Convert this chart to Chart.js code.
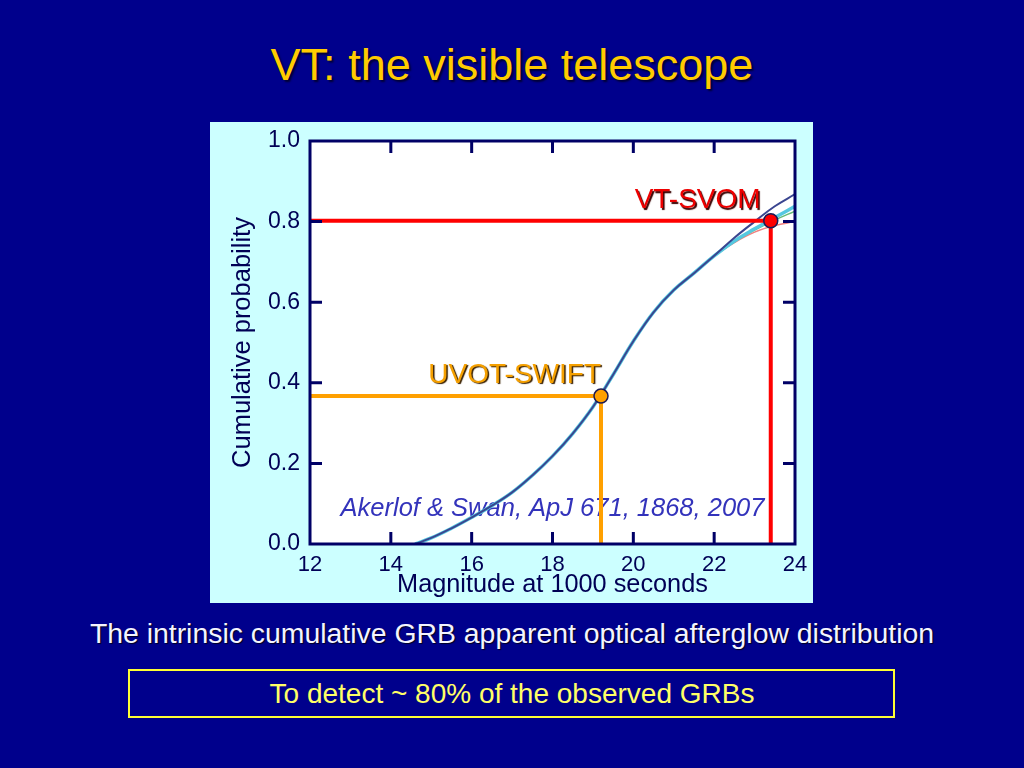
<!DOCTYPE html>
<html>
<head>
<meta charset="utf-8">
<script src="https://cdn.jsdelivr.net/npm/chart.js@4.4.1/dist/chart.umd.min.js"></script>
<style>
  html, body { margin:0; padding:0; }
  body { width:1024px; height:768px; background:#00008c; position:relative; overflow:hidden;
         font-family:"Liberation Sans", Arial, sans-serif; }
  .t { position:absolute; left:0; width:1024px; text-align:center; white-space:nowrap; }
  #title { top:42px; font-size:45px; line-height:45px; color:#ffcc00; text-shadow:2px 2px 2px #000033; }
  #sub { top:619px; font-size:28.4px; line-height:28px; color:#f4f4ff; text-shadow:1px 1px 1px #000022; }
  #box { position:absolute; left:128px; top:669px; width:763px; height:45px; border:2px solid #ffff33; }
  #boxtxt { top:680px; font-size:28px; line-height:28px; color:#ffff66; }
  #panel { position:absolute; left:210px; top:122px; width:603px; height:481px; background:#ccffff; }
</style>
</head>
<body>
<div class="t" id="title">VT: the visible telescope</div>
<div id="panel"><canvas id="c" width="603" height="481"></canvas></div>
<div class="t" id="sub">The intrinsic cumulative GRB apparent optical afterglow distribution</div>
<div id="box"></div>
<div class="t" id="boxtxt">To detect ~ 80% of the observed GRBs</div>
<script>
// ---- data ----
const magnitude = [14.6, 15.0, 15.5, 16.0, 16.5, 17.0, 17.5, 18.0, 18.5, 19.0, 19.5, 20.0, 20.5, 21.0, 21.5, 22.0, 22.5, 23.0, 23.5, 24.0];
const probMain  = [0.0, 0.015, 0.039, 0.066, 0.095, 0.128, 0.17, 0.218, 0.274, 0.34, 0.42, 0.503, 0.575, 0.63, 0.672, 0.715, 0.76, 0.80, 0.838, 0.868];
const tailMag        = [22.0, 22.5, 23.0, 23.5, 24.0];
const probCyanTail   = [0.715, 0.752, 0.782, 0.81, 0.838];
const probGreenTail  = [0.715, 0.75, 0.779, 0.804, 0.826];
const probRedTail    = [0.715, 0.748, 0.774, 0.79, 0.80];
const markerNames = ['UVOT-SWIFT', 'VT-SVOM'];
const markerMag   = [19.2, 23.4];
const markerProb  = [0.367, 0.802];
const markerColors = ['#ffa000', '#ff0000'];
const xTickMarks = [14, 16, 18, 20, 22];
const yTickMarks = [0.2, 0.4, 0.6, 0.8];
const citation = 'Akerlof & Swan, ApJ 671, 1868, 2007';

const pts = (xs, ys) => xs.map((v, i) => ({x: v, y: ys[i]}));
const bodyMag = magnitude.filter(m => m < tailMag[0]);
const bodyProb = probMain.slice(0, bodyMag.length);
const FONT = '"Liberation Sans", Arial, sans-serif';

const curve = (data, color, width, order) => ({
  data, showLine: true, borderColor: color, borderWidth: width, pointRadius: 0,
  tension: 0.4, order
});

const refLine = (i) => ({
  data: [{x: 12, y: markerProb[i]}, {x: markerMag[i], y: markerProb[i]}, {x: markerMag[i], y: 0}],
  showLine: true, borderColor: markerColors[i], borderWidth: 4, pointRadius: 0, tension: 0, order: 1, clip: 4
});
const marker = (i) => ({
  data: [{x: markerMag[i], y: markerProb[i]}], showLine: false,
  pointRadius: 7, pointBackgroundColor: markerColors[i], pointBorderColor: '#1a1a55', pointBorderWidth: 1.5,
  order: 0, clip: 10
});

const decor = {
  id: 'decor',
  beforeDatasetsDraw(chart) {
    const {ctx, chartArea: a, scales: {x, y}} = chart;
    ctx.save();
    ctx.fillStyle = '#ffffff';
    ctx.fillRect(a.left, a.top, a.width, a.height);
    ctx.font = 'italic 25.5px ' + FONT;
    ctx.fillStyle = '#3333bb';
    ctx.textAlign = 'center';
    ctx.textBaseline = 'middle';
    ctx.fillText(citation, x.getPixelForValue(18.0), y.getPixelForValue(0.087));
    ctx.restore();
  },
  afterDatasetsDraw(chart) {
    const {ctx, chartArea: a, scales: {x, y}} = chart;
    ctx.save();
    ctx.strokeStyle = '#000066';
    ctx.lineWidth = 3;
    ctx.strokeRect(a.left, a.top, a.width, a.height);
    ctx.beginPath();
    xTickMarks.forEach(v => {
      const px = x.getPixelForValue(v);
      ctx.moveTo(px, a.top); ctx.lineTo(px, a.top + 12);
      ctx.moveTo(px, a.bottom); ctx.lineTo(px, a.bottom - 12);
    });
    yTickMarks.forEach(v => {
      const py = y.getPixelForValue(v);
      ctx.moveTo(a.left, py); ctx.lineTo(a.left + 12, py);
      ctx.moveTo(a.right, py); ctx.lineTo(a.right - 12, py);
    });
    ctx.stroke();
    // marker labels
    ctx.font = '28px ' + FONT;
    ctx.textAlign = 'right';
    ctx.textBaseline = 'middle';
    const lab = [[19.2, 0.419, '#3a2000'], [23.15, 0.852, '#3a0000']];
    markerNames.forEach((n, i) => {
      ctx.shadowColor = lab[i][2];
      ctx.shadowOffsetX = 1.5; ctx.shadowOffsetY = 1.5; ctx.shadowBlur = 1;
      ctx.fillStyle = i === 0 ? '#f5a000' : '#ee0000';
      ctx.fillText(n, x.getPixelForValue(lab[i][0]), y.getPixelForValue(lab[i][1]));
    });
    ctx.restore();
  }
};

new Chart(document.getElementById('c'), {
  type: 'scatter',
  data: {
    datasets: [
      marker(0), marker(1),
      refLine(0), refLine(1),
      curve(pts(magnitude, probMain), '#3a4590', 2, 2),
      curve(pts(bodyMag.concat(tailMag), bodyProb.concat(probCyanTail)), '#55c8e0', 3.5, 3),
      curve(pts(tailMag, probGreenTail), '#66bb77', 1.5, 4),
      curve(pts(tailMag, probRedTail), '#f08080', 1.5, 5)
    ]
  },
  options: {
    responsive: false,
    animation: false,
    events: [],
    layout: { padding: { left: 0, top: 19, right: 18, bottom: 0 } },
    plugins: { legend: { display: false }, tooltip: { enabled: false } },
    scales: {
      x: {
        type: 'linear', min: 12, max: 24,
        ticks: { stepSize: 2, padding: 0, color: '#000055', font: { size: 22, family: FONT } },
        grid: { display: false }, border: { display: false },
        title: { display: true, text: 'Magnitude at 1000 seconds', color: '#000055',
                 font: { size: 25.3, family: FONT }, padding: { top: 0, bottom: 3 } },
        afterFit(s) { s.height = 59; }
      },
      y: {
        min: 0, max: 1,
        ticks: { stepSize: 0.2, padding: 2, color: '#000055', callback: v => v.toFixed(1),
                 font: { size: 23, family: FONT } },
        grid: { display: false }, border: { display: false },
        title: { display: true, text: 'Cumulative probability', color: '#000055',
                 font: { size: 25.5, family: FONT }, padding: { top: 18, bottom: 0 } },
        afterFit(s) { s.width = 100; }
      }
    }
  },
  plugins: [decor]
});
</script>
</body>
</html>
